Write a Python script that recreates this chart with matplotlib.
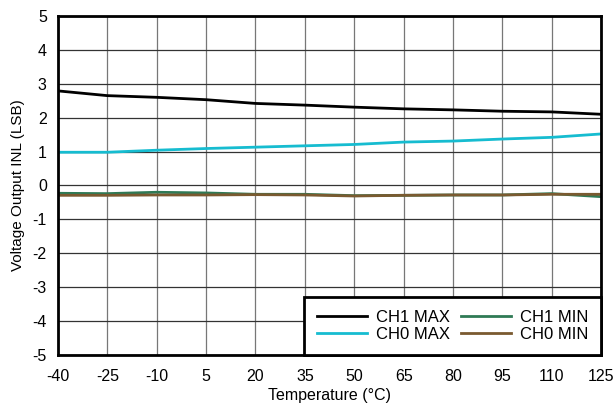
import matplotlib.pyplot as plt

plt.rcParams['font.family'] = ['Liberation Sans', 'DejaVu Sans']
plt.rcParams['axes.unicode_minus'] = False

temps = [-40, -25, -10, 5, 20, 35, 50, 65, 80, 95, 110, 125]
ch1_max = [2.79, 2.65, 2.60, 2.53, 2.42, 2.37, 2.31, 2.26, 2.23, 2.19, 2.17, 2.10]
ch0_max = [0.98, 0.98, 1.04, 1.09, 1.13, 1.17, 1.21, 1.28, 1.31, 1.37, 1.42, 1.52]
ch1_min = [-0.23, -0.24, -0.20, -0.22, -0.26, -0.26, -0.30, -0.29, -0.28, -0.28, -0.24, -0.33]
ch0_min = [-0.29, -0.29, -0.28, -0.28, -0.27, -0.28, -0.31, -0.29, -0.28, -0.28, -0.26, -0.26]
y_ticks = [5, 4, 3, 2, 1, 0, -1, -2, -3, -4, -5]

fig = plt.figure(figsize=(6.16, 4.09), dpi=100)
ax = fig.add_axes([0.094, 0.132, 0.882, 0.829])

ax.plot(temps, ch1_max, color='black', linewidth=2, label='CH1 MAX')
ax.plot(temps, ch0_max, color='#16BCD0', linewidth=2, label='CH0 MAX')
ax.plot(temps, ch1_min, color='#2F7A55', linewidth=2, label='CH1 MIN')
ax.plot(temps, ch0_min, color='#7A5A30', linewidth=2, label='CH0 MIN')

ax.set_xlim(-40, 125)
ax.set_ylim(-5, 5)
ax.set_xticks(temps)
ax.set_yticks(y_ticks)
ax.tick_params(length=0, labelsize=11.5)
ax.tick_params(axis='x', pad=10)
ax.tick_params(axis='y', pad=8)
for x in temps:
    ax.axvline(x, color='#777777', linewidth=0.9, zorder=0)
for y in y_ticks:
    ax.axhline(y, color='#333333', linewidth=0.9, zorder=0)
for s in ax.spines.values():
    s.set_linewidth(2)
    s.set_color('black')

ax.set_xlabel('Temperature (°C)', fontsize=11.5, labelpad=3)
ax.set_ylabel('Voltage Output INL (LSB)', fontsize=11, labelpad=5)

leg = ax.legend(loc='lower right', ncol=2, fontsize=12, frameon=True, fancybox=False,
                borderaxespad=0, handlelength=3.0, columnspacing=0.7, handletextpad=0.5,
                borderpad=0.8, labelspacing=0.1)
leg.get_frame().set_edgecolor('black')
leg.get_frame().set_linewidth(2)
leg.get_frame().set_alpha(1)

plt.savefig('out.png', dpi=100)
